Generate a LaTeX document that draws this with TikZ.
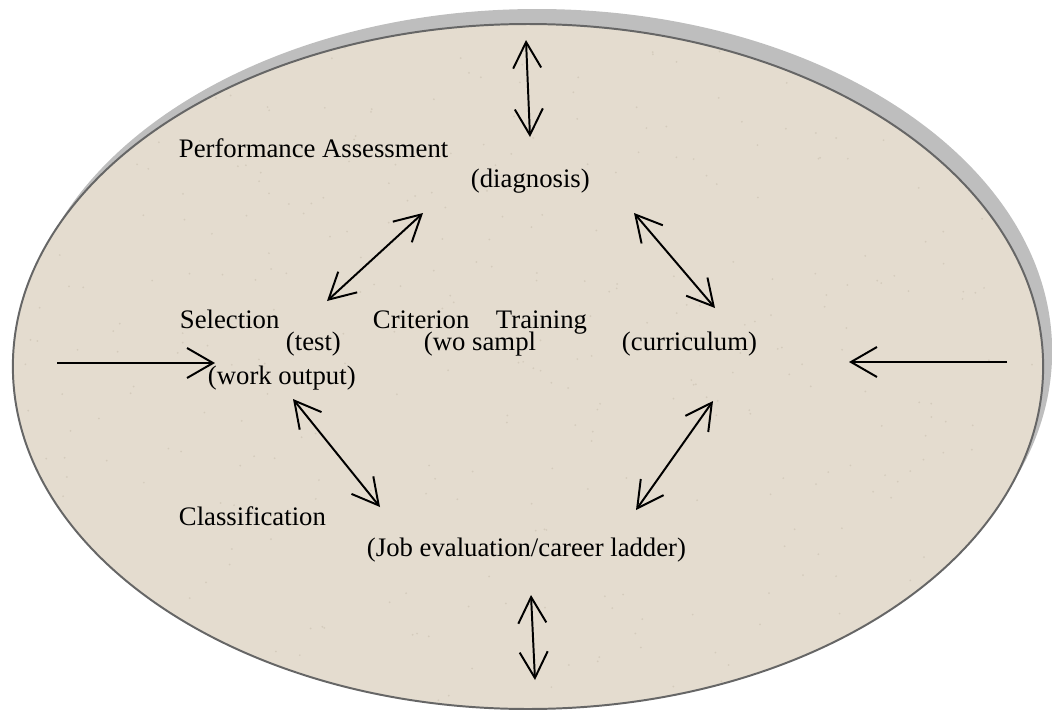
\documentclass[tikz,border=0pt]{standalone}
\usepackage{fontspec}
\setmainfont{Liberation Serif}
\usetikzlibrary{arrows.meta, positioning}
\definecolor{cpaper}{HTML}{E4DCCF}
\definecolor{cspeck}{HTML}{B8AD9B}
\definecolor{cshadow}{HTML}{BEBEBE}
\definecolor{crim}{HTML}{666666}
\tikzset{
  every picture/.style={font=\fontsize{19}{22}\selectfont, line width=1.4pt},
  txt/.style={anchor=base west, inner sep=0pt},
  link/.style={{Straight Barb[length=6.5mm, width=7mm]}-{Straight Barb[length=6.5mm, width=7mm]}},
  feed/.style={-{Straight Barb[length=6.5mm, width=7.5mm]}},
}

\begin{document}
\begin{tikzpicture}[x=0.025cm, y=-0.025cm]
  \useasboundingbox (0,0) rectangle (1052,710);
  % disc with its shadow
  \fill[cshadow] (537,351.5) ellipse [x radius=12.875cm, y radius=8.56cm];
  \fill[cpaper] (528,366.5) ellipse [x radius=12.875cm, y radius=8.56cm];
  \begin{scope}
    \clip (528,366.5) ellipse [x radius=12.875cm, y radius=8.56cm];
    \pgfmathsetseed{11}
    \foreach \i in {1,...,450}
      \fill[cspeck, opacity=0.35] ({1052*rnd},{710*rnd}) circle (0.7pt);
  \end{scope}
  \draw[crim] (528,366.5) ellipse [x radius=12.875cm, y radius=8.56cm];

  % labels
  \node[txt] (perf)  at (178,157) {Performance Assessment};
  \node[txt] (diag)  at (470,187) {(diagnosis)};
  \node[txt] (sel)   at (179,328) {Selection};
  \node[txt] (crit)  at (372,328) {Criterion};
  \node[txt] (train) at (495,328) {Training};
  \node[txt] (test)  at (285,350) {(test)};
  \node[txt] (wosa)  at (423,350) {(wo sampl};
  \node[txt] (curr)  at (621,350) {(curriculum)};
  \node[txt] (work)  at (207,384) {(work output)};
  \node[txt] (class) at (178,525) {Classification};
  \node[txt] (job)   at (366,556) {(Job evaluation/career ladder)};

  % arrow ends
  \coordinate (topA) at (526,40);  \coordinate (topB) at (530,137);
  \coordinate (nwA) at (423,213);  \coordinate (nwB) at (327,301);
  \coordinate (neA) at (634,213);  \coordinate (neB) at (715,308);
  \coordinate (swA) at (293,399);  \coordinate (swB) at (380,507);
  \coordinate (seA) at (713,401);  \coordinate (seB) at (636,510);
  \coordinate (botA) at (531,595); \coordinate (botB) at (535,680);
  \coordinate (inL) at (57,363);   \coordinate (tipL) at (215,363);
  \coordinate (inR) at (1007,362); \coordinate (tipR) at (849,362);

  \draw[link] (topA) -- (topB);
  \draw[link] (nwA) -- (nwB);
  \draw[link] (neA) -- (neB);
  \draw[link] (swA) -- (swB);
  \draw[link] (seA) -- (seB);
  \draw[link] (botA) -- (botB);
  \draw[feed] (inL) -- (tipL);
  \draw[feed] (inR) -- (tipR);
\end{tikzpicture}
\end{document}
